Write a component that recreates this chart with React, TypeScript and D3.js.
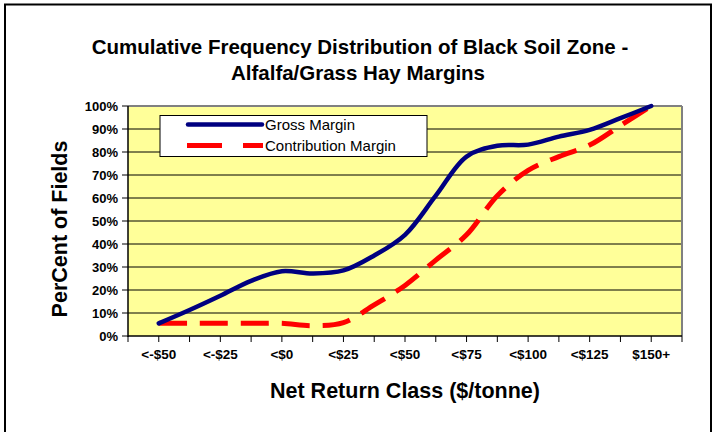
import React from "react";
import * as d3 from "d3";

const categories = ["<-$50", "<-$25", "<$0", "<$25", "<$50", "<$75", "<$100", "<$125", "$150+"];
// positions (in category index units) of the plotted points
const pointPositions = [0, 0.5, 1, 1.5, 2, 2.5, 3, 3.5, 4, 4.5, 5, 5.5, 6, 6.5, 7, 7.5, 8];
const grossMargin = [5.5, 11.3, 17.5, 24, 28.2, 27.2, 28.5, 35, 44, 61, 78, 82.7, 83.2, 86.7, 89.6, 94.7, 100];
const contributionMargin = [5.5, 5.5, 5.5, 5.5, 5.5, 4.5, 5.8, 13.5, 22, 33, 44, 61, 72, 78, 83, 91.5, 100];
const yTicks = [0, 10, 20, 30, 40, 50, 60, 70, 80, 90, 100];
const seriesNames = ["Gross Margin", "Contribution Margin"];

const W = 718;
const H = 432;
const plot = { left: 128, right: 682, top: 106, bottom: 336 };
const FONT = "'Liberation Sans', Arial, Helvetica, sans-serif";

export default function App() {
  const x = d3.scaleLinear().domain([-0.5, categories.length - 0.5]).range([plot.left, plot.right]);
  const y = d3.scaleLinear().domain([0, 100]).range([plot.bottom, plot.top]);
  const line = d3
    .line<[number, number]>()
    .x((d) => x(d[0]))
    .y((d) => y(d[1]))
    .curve(d3.curveCatmullRom.alpha(0.5));
  const grossPath = line(pointPositions.map((p, i) => [p, grossMargin[i]]) as [number, number][]) || "";
  const contribPath = line(pointPositions.map((p, i) => [p, contributionMargin[i]]) as [number, number][]) || "";
  const xTickVals = d3.range(-0.5, categories.length - 0.5 + 0.01, 0.5);

  return (
    <svg width={W} height={H} style={{ position: "absolute", left: 0, top: 0 }} fontFamily={FONT}>
      <rect x={0} y={0} width={W} height={H} fill="#fff" />
      <rect x={5} y={4.5} width={706} height={440} fill="#fff" stroke="#000" strokeWidth={2} />
      <text x={360} y={54} textAnchor="middle" fontWeight="bold" fontSize={20.5}>
        Cumulative Frequency Distribution of Black Soil Zone -
      </text>
      <text x={358} y={80} textAnchor="middle" fontWeight="bold" fontSize={20.5}>
        Alfalfa/Grass Hay Margins
      </text>
      <rect x={plot.left} y={plot.top} width={plot.right - plot.left} height={plot.bottom - plot.top} fill="#FFFF99" />
      {yTicks.map((t) => (
        <g key={t}>
          {t > 0 && t < 100 && (
            <line x1={plot.left} x2={plot.right} y1={y(t)} y2={y(t)} stroke="#000" strokeWidth={1} />
          )}
          <line x1={plot.left - 6} x2={plot.left} y1={y(t)} y2={y(t)} stroke="#000" strokeWidth={1} />
          <text x={118} y={y(t) + 4.5} textAnchor="end" fontWeight="bold" fontSize={13}>
            {t}%
          </text>
        </g>
      ))}
      <line x1={plot.left} x2={plot.right} y1={plot.top} y2={plot.top} stroke="#808080" strokeWidth={2} />
      <line x1={plot.right} x2={plot.right} y1={plot.top} y2={plot.bottom} stroke="#808080" strokeWidth={2} />
      <line x1={plot.left} x2={plot.left} y1={plot.top} y2={plot.bottom + 1} stroke="#000" strokeWidth={1.5} />
      <line x1={plot.left} x2={plot.right} y1={plot.bottom} y2={plot.bottom} stroke="#000" strokeWidth={1.5} />
      {xTickVals.map((v, i) => (
        <line key={i} x1={x(v)} x2={x(v)} y1={plot.bottom} y2={plot.bottom + 6} stroke="#000" strokeWidth={1} />
      ))}
      {categories.map((c, i) => (
        <text key={c} x={x(i)} y={359} textAnchor="middle" fontWeight="bold" fontSize={13.5}>
          {c}
        </text>
      ))}
      <path d={contribPath} fill="none" stroke="#FF0000" strokeWidth={5} strokeDasharray="28 13" />
      <path d={grossPath} fill="none" stroke="#000080" strokeWidth={4.5} strokeLinecap="round" />
      <g>
        <rect x={160} y={115.5} width={267} height={41} fill="#fff" stroke="#000" strokeWidth={1} />
        <line x1={188} x2={262} y1={124.5} y2={124.5} stroke="#000080" strokeWidth={4.5} strokeLinecap="round" />
        <line x1={187} x2={263} y1={145.5} y2={145.5} stroke="#FF0000" strokeWidth={5} strokeDasharray="35 21" />
        <text x={265} y={130} fontSize={15}>{seriesNames[0]}</text>
        <text x={265} y={151} fontSize={15}>{seriesNames[1]}</text>
      </g>
      <text x={405} y={398} textAnchor="middle" fontWeight="bold" fontSize={21.5}>
        Net Return Class ($/tonne)
      </text>
      <text
        transform={`translate(67,229) rotate(-90)`}
        textAnchor="middle"
        fontWeight="bold"
        fontSize={21.5}
      >
        PerCent of Fields
      </text>
    </svg>
  );
}
